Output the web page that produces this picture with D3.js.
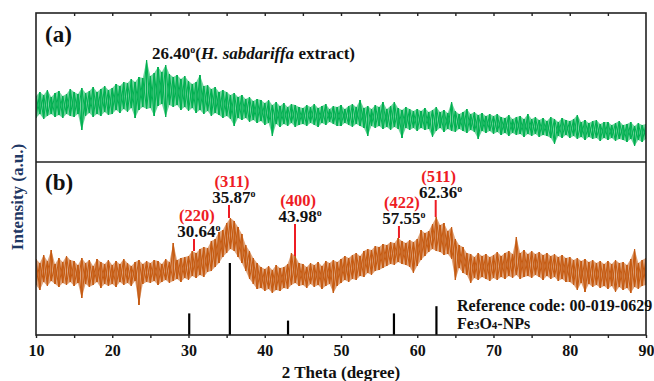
<!DOCTYPE html>
<html>
<head>
<meta charset="utf-8">
<script src="https://cdn.jsdelivr.net/npm/d3@7"></script>
<style>
  body { margin: 0; background: #fff; }
  text { font-family: "Liberation Serif", "Times New Roman", serif; font-weight: bold; }
</style>
</head>
<body>
<div id="chart"></div>
<script>
const startAngle = 10;
const stepAngle = 0.5;

// (a) H. sabdariffa extract
const extractHigh = [
  66, 70, 67, 72, 65, 69, 71, 66, 68, 73,
  70, 68, 74, 69, 71, 75, 70, 73, 76, 72,
  74, 78, 76, 80, 79, 83, 80, 85, 84, 102,
  86, 89, 95, 90, 97, 88, 85, 87, 83, 86,
  81, 78, 80, 87, 76, 77, 73, 75, 70, 72,
  70, 67, 69, 65, 67, 63, 65, 61, 63, 62,
  59, 62, 57, 60, 56, 59, 55, 58, 57, 55,
  54, 57, 55, 58, 54, 56, 58, 53, 56, 55,
  57, 53, 56, 58, 55, 62, 54, 56, 53, 57,
  55, 60, 53, 56, 60, 54, 52, 55, 53, 51,
  53, 51, 54, 50, 52, 55, 50, 52, 49, 60,
  51, 48, 50, 53, 48, 50, 47, 49, 46, 48,
  46, 48, 45, 44, 47, 43, 45, 46, 43, 48,
  43, 45, 42, 44, 41, 45, 43, 40, 44, 42,
  41, 43, 47, 40, 42, 39, 41, 42, 38, 40,
  40, 37, 39, 41, 37, 38, 40, 36, 39, 37, 38
];
const extractLow = [
  44, 48, 43, 46, 48, 45, 47, 44, 48, 46,
  45, 48, 32, 46, 49, 45, 48, 46, 50, 47,
  48, 52, 49, 53, 50, 54, 44, 52, 55, 53,
  54, 46, 56, 58, 45, 57, 55, 57, 52, 55,
  51, 54, 49, 52, 48, 51, 46, 49, 47, 44,
  46, 43, 36, 44, 42, 44, 40, 42, 39, 41,
  37, 39, 26, 38, 35, 38, 36, 39, 35, 37,
  38, 36, 39, 37, 35, 39, 37, 40, 38, 36,
  36, 39, 37, 35, 38, 36, 34, 26, 36, 34,
  36, 33, 35, 32, 35, 33, 24, 34, 32, 34,
  31, 34, 32, 33, 25, 31, 34, 30, 33, 31,
  30, 33, 31, 29, 32, 30, 23, 31, 29, 31,
  28, 30, 27, 29, 26, 29, 27, 28, 25, 28,
  26, 28, 25, 27, 26, 24, 18, 26, 24, 27,
  24, 26, 23, 25, 22, 25, 23, 24, 21, 24,
  22, 24, 21, 23, 22, 20, 23, 16, 22, 20, 23
];

// (b) Fe3O4-NPs
const npHigh = [
  76, 72, 80, 74, 85, 71, 77, 73, 79, 75,
  74, 70, 77, 72, 75, 69, 76, 73, 71, 75,
  70, 74, 71, 76, 72, 69, 73, 75, 71, 74,
  72, 75, 74, 71, 76, 73, 92, 75, 77, 78,
  79, 84, 82, 86, 88, 87, 94, 96, 103, 105,
  112, 117, 114, 108, 101, 90, 84, 77, 72, 68,
  66, 69, 65, 70, 67, 68, 71, 82, 79, 72,
  71, 68, 72, 70, 73, 69, 74, 72, 75, 73,
  76, 79, 77, 80, 82, 79, 84, 86, 85, 89,
  88, 91, 90, 93, 92, 97, 94, 92, 95, 93,
  96, 105, 102, 104, 111, 118, 110, 112, 104, 108,
  96, 90, 88, 82, 81, 78, 82, 79, 81, 78,
  80, 83, 79, 82, 84, 81, 98, 82, 85, 81,
  84, 81, 83, 80, 82, 79, 81, 78, 80, 77,
  78, 75, 77, 74, 76, 73, 75, 72, 74, 71,
  74, 71, 75, 72, 73, 70, 76, 86, 72, 75, 77
];
const npLow = [
  50, 45, 53, 49, 54, 51, 48, 52, 50, 53,
  49, 52, 37, 51, 48, 50, 53, 47, 51, 49,
  51, 48, 53, 50, 52, 49, 54, 30, 51, 53,
  52, 54, 50, 53, 55, 52, 54, 56, 53, 57,
  55, 59, 57, 60, 58, 63, 64, 68, 72, 78,
  82, 86, 84, 78, 72, 64, 56, 51, 46, 47,
  44, 46, 42, 45, 44, 47, 46, 50, 52, 49,
  50, 47, 51, 48, 50, 46, 49, 51, 42, 49,
  52, 55, 53, 56, 55, 59, 58, 62, 60, 64,
  65, 67, 69, 71, 70, 73, 71, 70, 68, 62,
  69, 75, 79, 83, 86, 84, 83, 80, 81, 76,
  55, 67, 62, 60, 52, 57, 55, 58, 56, 54,
  57, 55, 58, 56, 59, 57, 60, 56, 58, 59,
  57, 60, 58, 55, 59, 56, 58, 54, 56, 53,
  53, 50, 45, 52, 43, 51, 48, 50, 47, 49,
  46, 49, 43, 48, 45, 47, 42, 48, 46, 49, 50
];

// reference pattern 00-019-0629 (magnetite)
const refAngles = [30.095, 35.423, 43.053, 56.944, 62.516];
const refIntensity = [30, 100, 20, 30, 40];

// indexed peaks
const peakHkl = ["(220)", "(311)", "(400)", "(422)", "(511)"];
const peakLabels = ["30.64", "35.87", "43.98", "57.55", "62.36"];
const peakMarkAt = [30.72, 35.31, 43.97, 57.6, 62.42];

const xTickValues = d3.range(10, 91, 5);

// layout
const width = 654;
const height = 381;
const margin = {left: 36, right: 8, top: 13, bottom: 46};
const splitY = 162;
const markLen = [12, 13, 32, 12, 17];   // red marker lengths, px

const angles = extractHigh.map((d, i) => startAngle + i * stepAngle);

const svg = d3.select("#chart")
  .append("svg")
  .attr("width", width)
  .attr("height", height);

const x = d3.scaleLinear()
  .domain([10, 90])
  .range([margin.left, width - margin.right]);

const yA = d3.scaleLinear()
  .domain([0, 149])
  .range([splitY, margin.top]);

const yB = d3.scaleLinear()
  .domain([0, 173])
  .range([height - margin.bottom, splitY]);

const yRef = d3.scaleLinear()
  .domain([0, 100])
  .range([height - margin.bottom, height - margin.bottom - 72]);

svg.append("clipPath").attr("id", "plot-clip")
  .append("rect")
  .attr("x", margin.left).attr("y", margin.top)
  .attr("width", width - margin.left - margin.right)
  .attr("height", height - margin.top - margin.bottom);

// each bin is a vertical stroke from max to min; two passes, crossing
// between neighbouring bins, plus a light fill so the band reads as a dense trace
function noisePoints(first, second, y) {
  return first.flatMap((v, i) => [[x(angles[i]), y(v)], [x(angles[i]), y(second[i])]]);
}
const line = d3.line();

const plot = svg.append("g").attr("clip-path", "url(#plot-clip)");

function drawTrace(hi, lo, y, colour) {
  const band = d3.area()
    .x((d, i) => x(angles[i]))
    .y0((d, i) => y(lo[i]))
    .y1(d => y(d));
  plot.append("path")
    .attr("d", band(hi))
    .attr("fill", colour)
    .attr("fill-opacity", 0.55);
  plot.append("path")
    .attr("d", line(noisePoints(hi, lo, y)))
    .attr("fill", "none")
    .attr("stroke", colour)
    .attr("stroke-width", 1);
  plot.append("path")
    .attr("d", line(noisePoints(lo, hi, y)))
    .attr("fill", "none")
    .attr("stroke", colour)
    .attr("stroke-width", 1);
}

drawTrace(extractHigh, extractLow, yA, "#00b050");
drawTrace(npHigh, npLow, yB, "#c55a11");

// reference sticks
svg.selectAll(".ref")
  .data(refAngles)
  .enter()
  .append("line")
    .attr("class", "ref")
    .attr("x1", d => x(d)).attr("x2", d => x(d))
    .attr("y1", yRef(0))
    .attr("y2", (d, i) => yRef(refIntensity[i]))
    .attr("stroke", "#000")
    .attr("stroke-width", 2.2);

// peak markers + labels
const nearestBin = a => Math.round((a - startAngle) / stepAngle);
const peaks = peakMarkAt.map((a, i) => ({
  a: a,
  bottom: yB(npHigh[nearestBin(a)]),
  len: markLen[i],
  hkl: peakHkl[i],
  label: peakLabels[i]
}));

const pk = svg.selectAll(".peak")
  .data(peaks)
  .enter()
  .append("g")
  .attr("class", "peak");

pk.append("line")
  .attr("x1", d => x(d.a)).attr("x2", d => x(d.a))
  .attr("y1", d => d.bottom)
  .attr("y2", d => d.bottom - d.len)
  .attr("stroke", "#ee1c24")
  .attr("stroke-width", 2);

const angleText = pk.append("text")
  .attr("x", d => x(d.a) + 5)
  .attr("y", d => d.bottom - d.len - 2)
  .attr("text-anchor", "middle")
  .attr("font-size", 17)
  .attr("fill", "#111");
angleText.append("tspan").text(d => d.label);
angleText.append("tspan").attr("font-size", 10).attr("dy", -6).text("o");

pk.append("text")
  .attr("x", d => x(d.a) + 3)
  .attr("y", d => d.bottom - d.len - 18.5)
  .attr("text-anchor", "middle")
  .attr("font-size", 16.5)
  .attr("fill", "#ee1c24")
  .text(d => d.hkl);

// frame and divider
svg.append("rect")
  .attr("x", margin.left).attr("y", margin.top)
  .attr("width", width - margin.left - margin.right)
  .attr("height", height - margin.top - margin.bottom)
  .attr("fill", "none")
  .attr("stroke", "#222")
  .attr("stroke-width", 1.6);

svg.append("line")
  .attr("x1", margin.left).attr("x2", width - margin.right)
  .attr("y1", splitY).attr("y2", splitY)
  .attr("stroke", "#222")
  .attr("stroke-width", 1.6);

// axes
const bottomAxis = svg.append("g")
  .attr("transform", `translate(0,${height - margin.bottom})`)
  .call(d3.axisBottom(x)
    .tickValues(xTickValues)
    .tickSize(3)
    .tickSizeOuter(0)
    .tickPadding(7)
    .tickFormat(d => d % 10 === 0 ? d : ""));
bottomAxis.select(".domain").remove();
bottomAxis.selectAll("line").attr("stroke", "#222").attr("stroke-width", 1.4);
bottomAxis.selectAll("text")
  .attr("font-size", 16)
  .attr("font-family", "Liberation Serif, serif")
  .attr("font-weight", "bold")
  .attr("fill", "#111");

const topAxis = svg.append("g")
  .attr("transform", `translate(0,${margin.top})`)
  .call(d3.axisBottom(x)
    .tickValues(xTickValues.slice(1, -1))
    .tickSize(3)
    .tickSizeOuter(0)
    .tickFormat(""));
topAxis.select(".domain").remove();
topAxis.selectAll("line").attr("stroke", "#222").attr("stroke-width", 1.4);

// titles and notes
svg.append("text")
  .attr("x", (margin.left + width - margin.right) / 2)
  .attr("y", 378)
  .attr("text-anchor", "middle")
  .attr("font-size", 17)
  .attr("fill", "#111")
  .text("2 Theta (degree)");

svg.append("text")
  .attr("transform", "translate(23,197) rotate(-90)")
  .attr("text-anchor", "middle")
  .attr("font-size", 17)
  .attr("fill", "#1f3864")
  .text("Intensity (a.u.)");

svg.append("text")
  .attr("x", 45).attr("y", 42)
  .attr("font-size", 23)
  .attr("fill", "#111")
  .text("(a)");

svg.append("text")
  .attr("x", 45).attr("y", 190)
  .attr("font-size", 23)
  .attr("fill", "#111")
  .text("(b)");

const note = svg.append("text")
  .attr("x", 152).attr("y", 59)
  .attr("font-size", 17)
  .attr("fill", "#111");
note.append("tspan").text("26.40");
note.append("tspan").attr("font-size", 10).attr("dy", -6).text("o");
note.append("tspan").attr("dy", 6).text("(");
note.append("tspan").attr("font-style", "italic").text("H. sabdariffa");
note.append("tspan").text(" extract)");

svg.append("text")
  .attr("x", 457).attr("y", 311)
  .attr("font-size", 16)
  .attr("fill", "#111")
  .text("Reference code: 00-019-0629");

const fe = svg.append("text")
  .attr("x", 457).attr("y", 329)
  .attr("font-size", 16)
  .attr("fill", "#111");
fe.append("tspan").text("Fe");
fe.append("tspan").attr("font-size", 11).text("3");
fe.append("tspan").text("O");
fe.append("tspan").attr("font-size", 11).text("4");
fe.append("tspan").text("-NPs");
</script>
</body>
</html>
